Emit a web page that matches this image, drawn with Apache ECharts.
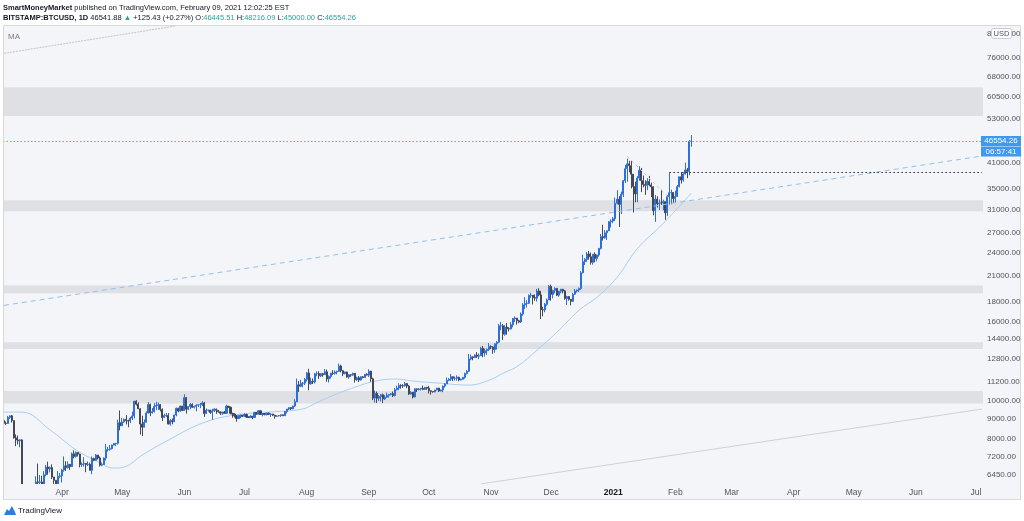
<!DOCTYPE html>
<html><head><meta charset="utf-8">
<script src="https://cdn.jsdelivr.net/npm/echarts@6/dist/echarts.min.js"></script>
<style>html,body{margin:0;padding:0;background:#fff}#c{width:1024px;height:521px}</style>
</head><body><div id="c"></div>
<script>
// ---------- data (BITSTAMP:BTCUSD daily) ----------
const startDate = '2020-03-03';
const endDate = '2021-07-04';
const firstOpen = 8910;
const closes = [
// Mar 2020 (3..31)
8760,8750,9070,9155,8900,8035,7935,7895,7940,4860,5560,5170,5360,5030,5330,5410,6190,6180,6190,5820,6460,6760,6690,6740,6370,6250,5880,6400,6420,
// Apr
6640,6810,6740,6870,6780,7310,7200,7370,7300,6860,6880,6910,6860,6870,6630,7110,7040,7260,7130,6840,6860,7130,7490,7510,7540,7700,7770,7780,8790,8630,
// May
8830,8970,8890,8880,9030,9150,9990,9810,9540,8720,8560,8810,9310,9790,9320,9380,9680,9730,9780,9510,9060,9170,9180,8720,8900,8840,9200,9570,9420,9700,9450,
// Jun
10200,9520,9670,9790,9630,9670,9750,9780,9780,9880,9280,9470,9470,9340,9430,9520,9460,9380,9300,9360,9290,9690,9630,9290,9250,9160,9010,9120,9190,9140,
// Jul
9230,9090,9060,9130,9070,9340,9250,9430,9230,9280,9230,9300,9240,9250,9190,9130,9150,9170,9210,9160,9390,9530,9610,9550,9700,9950,11000,10910,11100,11110,11350,
// Aug
11800,11070,11230,11190,11740,11760,11600,11750,11680,11880,11390,11560,11790,11770,11860,11910,12290,11960,11750,11870,11520,11680,11650,11770,11340,11470,11320,11530,11480,11710,11650,
// Sep
11920,11400,10170,10460,10160,10260,10370,10120,10230,10340,10390,10440,10330,10680,10790,10950,10940,10930,11080,10920,10420,10530,10240,10740,10690,10730,10770,10700,10840,10780,
// Oct
10620,10570,10550,10670,10790,10600,10670,10920,11060,11300,11380,11540,11430,11430,11500,11320,11370,11500,11750,11910,12820,12980,12930,13120,13030,13070,13650,13280,13460,13560,13800,
// Nov
13760,13550,14020,14150,15590,15590,14840,15480,15330,15310,15700,16290,16330,16070,15960,16720,17660,17800,17820,18660,18700,18420,18370,19160,18730,17150,17140,17720,18180,19700,
// Dec
18790,19220,19450,18700,19150,19360,19170,18320,18550,18250,18030,18800,19160,19270,19440,21350,22800,23110,23850,23470,22710,23820,23240,23720,24660,26440,26250,27040,27360,28860,28990,
// Jan 2021
29400,32200,33000,31990,33980,36800,39500,40670,40240,38240,35540,34040,37390,39150,36830,36020,35820,36630,35900,35500,30830,33010,32100,32270,32260,32510,30430,33470,34280,34310,33110,
// Feb 2021 (1..9)
33540,35510,37660,36950,38300,39240,38900,46445.51,46554.26
];
const highs = [
9000,8850,9150,9180,9200,8900,8200,8150,7980,7970,6000,5650,5950,5370,5560,5450,6400,6900,6450,6420,6600,6850,6980,6790,6870,6380,6250,6600,6530,
6690,7200,7000,6990,6880,7370,7460,7420,7390,7320,6950,7170,6920,6990,6940,7200,7150,7300,7260,7200,6950,7160,7750,7620,7700,7720,7800,7800,8950,9450,
9050,9010,9190,8950,9100,9380,9990,10040,9920,9580,9160,8960,9400,9930,9840,9590,9870,9950,9900,9820,9570,9270,9310,9300,8980,9010,9220,9620,9600,9730,9700,
10400,10230,9690,9880,9860,9730,9800,9800,9880,9980,9940,9560,9490,9490,9540,9580,9560,9480,9400,9390,9420,9780,9700,9670,9320,9290,9200,9190,9230,9200,
9290,9270,9130,9190,9140,9370,9360,9460,9430,9300,9290,9330,9340,9280,9270,9210,9190,9190,9230,9220,9410,9540,9640,9640,9720,10100,11420,11250,11330,11180,11450,
11860,12090,11480,11420,11790,11910,11920,11800,11810,12070,12040,11630,11800,12000,11980,11960,12470,12390,11990,11890,11890,11690,11700,11820,11790,11540,11590,11560,11580,11720,11770,
12050,11950,11470,10630,10570,10350,10400,10440,10350,10500,10400,10480,10570,10790,10940,11100,11040,11040,11180,11080,10980,10580,10540,10770,10760,10790,10800,10950,10860,10850,
10930,10650,10600,10680,10800,10800,10690,10950,11100,11490,11440,11720,11560,11550,11630,11540,11410,11520,11820,12000,13200,13160,13020,13170,13350,13240,13770,13850,13640,13640,14080,
13900,13820,14060,14240,15770,15970,15760,15650,15850,15470,15960,16340,16490,16330,16150,16880,17840,18480,18150,18780,18950,18700,18770,19400,19480,19180,17450,17850,18320,19860,
19900,19300,19580,19520,19160,19410,19400,19280,18630,18560,18280,18940,19400,19330,19560,21550,23750,23280,24140,24280,24060,23830,24090,23780,24730,26860,28360,27480,27400,28990,29300,
29680,33300,34800,33600,34500,36950,40400,41950,41400,41380,38300,36600,37800,40100,39700,37950,36880,37340,37860,36400,35580,33830,33580,32950,34880,32900,32580,33780,38600,34900,34400,
34700,35900,37700,38650,38700,40950,39700,46780,48216.09
];
const lows = [
8650,8670,8730,8990,8800,8000,7650,7730,7600,4700,3850,5080,5100,4450,5000,5000,5400,5680,5880,5750,5730,6400,6460,6550,6300,6000,5880,5860,6330,
6170,6580,6610,6700,6650,6770,7120,7150,7200,6750,6770,6780,6560,6800,6620,6480,7000,7030,7070,6780,6790,6850,7030,7410,7450,7500,7680,7650,7720,8400,
8630,8780,8700,8560,8770,8930,9020,9730,9530,8200,8120,8550,8800,9280,9140,9280,9340,9480,9480,9400,8880,9050,9080,8700,8640,8710,8820,9130,9350,9380,9410,
9420,9280,9460,9520,9590,9560,9400,9640,9580,9700,9100,9250,9380,9260,8950,9370,9260,9330,9200,9200,9270,9280,9590,9230,9050,9060,8840,8980,9030,9100,
9100,9040,9050,9050,8970,9060,9220,9230,9200,9130,9180,9170,9200,9100,9140,9000,9090,9130,9100,9140,9150,9280,9470,9480,9510,9650,9930,10550,10850,10840,10980,
11220,10650,11000,11050,11090,11570,11390,11520,11530,11650,11200,11150,11420,11660,11680,11700,11870,11840,11580,11700,11480,11400,11530,11600,11150,11260,11180,11280,11430,11480,11620,
11520,11200,10050,9900,9880,10000,9970,9870,10050,10180,10200,10320,10230,10260,10650,10650,10750,10800,10890,10790,10360,10380,10150,10200,10540,10640,10630,10650,10660,10680,
10450,10380,10500,10520,10630,10540,10580,10530,10820,11060,11240,11250,11240,11280,11270,11230,11290,11340,11400,11700,11880,12720,12720,12880,12900,12800,13050,12950,12990,13130,13440,
13580,13220,13300,13550,14100,15190,14350,14710,14800,15080,15280,15460,15960,15700,15830,15860,16550,17220,17380,17740,18410,17700,18080,18000,18580,16230,16500,16900,17550,18200,
18100,18340,18900,18600,18520,18900,18900,18200,17630,18100,17600,18000,18750,18990,19060,19300,21250,22350,22770,23070,22400,22400,22700,22830,23480,24500,25840,26120,25920,27330,27900,
28620,29000,32000,28000,30200,33400,36300,36600,38700,35150,30500,32400,32400,36800,34400,35400,33850,34800,35600,33400,30000,28850,31400,30950,31900,30900,29200,29850,31950,32000,32300,
32300,33420,35400,36200,36600,38150,37360,38000,45000
];
// MA line, read at sample dates
const maDates = ['2020-03-03','2020-03-12','2020-03-26','2020-04-08','2020-04-19','2020-04-27','2020-05-02','2020-05-11','2020-05-24','2020-06-10','2020-06-26','2020-07-13','2020-07-30','2020-08-06','2020-08-21','2020-09-07','2020-09-15','2020-09-23','2020-10-06','2020-10-21','2020-10-31','2020-11-08','2020-11-14','2020-11-24','2020-12-05','2020-12-15','2020-12-24','2021-01-03','2021-01-13','2021-01-26','2021-02-09'];
const maValues = [9360,9360,8420,7480,6970,6720,6760,7260,7930,8770,9200,9360,9530,9900,10660,11310,11380,11250,11110,10980,11300,11850,12250,13500,15210,17120,18480,20800,24600,28600,34200];
const yTicks = [6450,7200,8000,9000,10000,11200,12800,14400,16000,18000,21000,24000,27000,31000,35000,41000,53000,60500,68000,76000,88000];
const zones = [[54000,64000],[30700,32800],[18900,19800],[13600,14150],[9850,10600]];
const lastPrice = 46554.26;
const countdown = '06:57:41';
const longDashed = [['2020-03-03',17600],['2021-07-04',42600]];
const upperGray = [['2020-03-03',78200],['2020-05-28',92000]];
const lowerGray = [['2020-10-27',6120],['2021-07-04',9530]];
const peakDashed = [['2021-01-08',42500],['2021-01-28',33600]];
const highDotted = [['2021-01-29',38600],['2021-07-04',38600]];
const monthNames = ['Jan','Feb','Mar','Apr','May','Jun','Jul','Aug','Sep','Oct','Nov','Dec'];

// ---------- build ----------
function buildDates(s, e) {
  const out = []; let d = new Date(s + 'T00:00:00Z'); const end = new Date(e + 'T00:00:00Z');
  while (d <= end) { out.push(d.toISOString().slice(0, 10)); d = new Date(d.getTime() + 86400000); }
  return out;
}
const categories = buildDates(startDate, endDate);
const candleData = closes.map((c, i) => [i === 0 ? firstOpen : closes[i - 1], c, lows[i], highs[i]]);
const maData = categories.map(() => null);
maDates.forEach((d, i) => { maData[categories.indexOf(d)] = maValues[i]; });
const nullData = categories.map(() => null);
const seg = (pts, style) => [{ coord: pts[0], lineStyle: style }, { coord: pts[1] }];

const FONT = 'Liberation Sans';
const chart = echarts.init(document.getElementById('c'), null, { renderer: 'canvas' });
const option = {
  animation: false,
  backgroundColor: '#ffffff',
  textStyle: { fontFamily: FONT },
  title: [
    { left: 3, top: 3.5, padding: 0, text: '{b|SmartMoneyMarket} published on TradingView.com, February 09, 2021 12:02:25 EST',
      textStyle: { fontSize: 7.5, fontWeight: 'normal', color: '#131722', fontFamily: FONT,
        rich: { b: { fontWeight: 'bold', fontSize: 7.5, color: '#131722', fontFamily: FONT } } } },
    { left: 3, top: 13.5, padding: 0, text: '{b|BITSTAMP:BTCUSD, 1D} 46541.88 {g|▲} +125.43 (+0.27%) O:{g|46445.51} H:{g|48216.09} L:{g|45000.00} C:{g|46554.26}',
      textStyle: { fontSize: 7.5, fontWeight: 'normal', color: '#131722', fontFamily: FONT,
        rich: { b: { fontWeight: 'bold', fontSize: 7.5, color: '#131722', fontFamily: FONT },
                g: { fontSize: 7.5, color: '#26a69a', fontFamily: FONT } } } }
  ],
  grid: { left: 3, right: 41, top: 25, bottom: 37, containLabel: false },
  xAxis: {
    type: 'category', data: categories, boundaryGap: true, z: 20,
    axisLine: { show: false }, axisTick: { show: false }, splitLine: { show: false },
    axisLabel: {
      interval: (i, v) => v.slice(8) === '01',
      formatter: (v) => { const m = +v.slice(5, 7); return m === 1 ? '{y|' + v.slice(0, 4) + '}' : monthNames[m - 1]; },
      color: '#50535e', fontSize: 8.5, margin: 4, fontFamily: FONT,
      rich: { y: { fontWeight: 'bold', color: '#131722', fontSize: 8.5, fontFamily: FONT } }
    }
  },
  yAxis: {
    type: 'log', logBase: 10, min: 6116, max: 92480, position: 'right', z: 20,
    axisLine: { show: false }, axisTick: { show: false }, splitLine: { show: false },
    axisLabel: { customValues: yTicks, formatter: (v) => Number(v).toFixed(2), color: '#50535e', fontSize: 8, margin: 4, fontFamily: FONT }
  },
  series: [
    { name: 'zones', type: 'line', data: nullData, z: 1, silent: true, symbol: 'none',
      markArea: { silent: true, itemStyle: { color: '#dfe0e4' }, data: zones.map(z => [{ yAxis: z[0] }, { yAxis: z[1] }]) } },
    { name: 'MA', type: 'line', data: maData, connectNulls: true, smooth: 0.4, symbol: 'none', z: 2, silent: true,
      lineStyle: { color: '#a8cff3', width: 1 } },
    { name: 'BTCUSD', type: 'candlestick', data: candleData, z: 3, barWidth: 1.6, clip: true,
      itemStyle: { color: '#2e6fdc', color0: '#3a3d47', borderColor: '#2e6fdc', borderColor0: '#454852', borderWidth: 1 },
      markLine: { silent: true, symbol: 'none', animation: false, label: { show: false },
        data: [
          seg(longDashed, { color: '#93c1ef', type: [5, 4], width: 1 }),
          seg(upperGray, { color: '#c3c5cb', type: [2, 1], width: 1 }),
          seg(lowerGray, { color: '#cfd1d6', type: 'solid', width: 1 }),
          seg(peakDashed, { color: '#c2c4ca', type: [3, 3], width: 1 }),
          seg(highDotted, { color: '#1e222d', type: [1.5, 2.5], width: 1 }),
          { yAxis: lastPrice, lineStyle: { color: '#62a8ef', type: [1.5, 2], width: 1 } }
        ]
      } }
  ]
};
chart.setOption(option);

const py = chart.convertToPixel({ yAxisIndex: 0 }, lastPrice);
chart.setOption({
  graphic: [
    { type: 'rect', z: -10, silent: true, shape: { x: 3.5, y: 25.5, width: 1017, height: 474 }, style: { fill: '#f4f5f8' } },
    // covers for wicks running past the pane bottom
    { type: 'rect', z: 8, silent: true, shape: { x: 3.5, y: 484, width: 1017, height: 15.5 }, style: { fill: '#f4f5f8' } },
    { type: 'rect', z: 8, silent: true, shape: { x: 0, y: 500, width: 1024, height: 21 }, style: { fill: '#ffffff' } },
    { type: 'rect', z: 9, silent: true, shape: { x: 3.5, y: 25.5, width: 1017, height: 474 }, style: { fill: 'none', stroke: '#d6d8de', lineWidth: 1 } },
    { type: 'text', z: 10, x: 8, y: 33, style: { text: 'MA', fill: '#787b86', fontSize: 8, fontFamily: FONT } },
    { type: 'rect', z: 30, shape: { x: 991.5, y: 28.5, width: 20, height: 10, r: 2 }, style: { fill: '#ffffff', stroke: '#c9ccd3', lineWidth: 1 } },
    { type: 'text', z: 31, x: 1001.5, y: 33.5, style: { text: 'USD', fill: '#50535e', fontSize: 7.5, fontFamily: FONT, align: 'center', verticalAlign: 'middle' } },
    { type: 'rect', z: 30, shape: { x: 981, y: py - 5, width: 40, height: 10 }, style: { fill: '#3d9af0' } },
    { type: 'text', z: 31, x: 1001, y: py, style: { text: '46554.26', fill: '#ffffff', fontSize: 8, fontFamily: FONT, align: 'center', verticalAlign: 'middle' } },
    { type: 'rect', z: 30, shape: { x: 981, y: py + 5.5, width: 40, height: 10 }, style: { fill: '#3d9af0' } },
    { type: 'text', z: 31, x: 1001, y: py + 10.5, style: { text: countdown, fill: '#ffffff', fontSize: 8, fontFamily: FONT, align: 'center', verticalAlign: 'middle' } },
    { type: 'polygon', z: 10, shape: { points: [[4, 515], [7, 509], [9, 511], [12, 506], [15, 512], [16, 515]] }, style: { fill: '#2e7be6' } },
    { type: 'text', z: 10, x: 18, y: 511, style: { text: 'TradingView', fill: '#131722', fontSize: 8, fontFamily: FONT, verticalAlign: 'middle' } }
  ]
});
</script></body></html>
